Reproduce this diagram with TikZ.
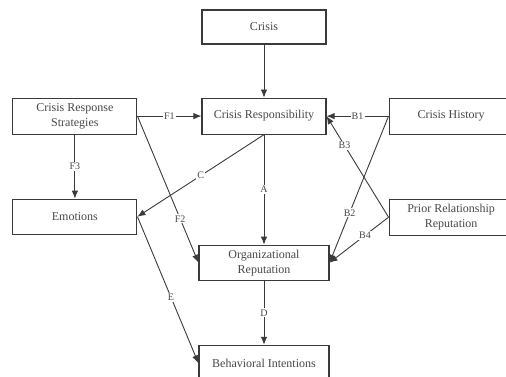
\documentclass[tikz,border=0pt]{standalone}
\usepackage{fontspec}
\setmainfont{Liberation Serif}
\usepackage{xcolor}
\usepackage{tikz}
\usetikzlibrary{arrows.meta,positioning}
\definecolor{crline}{RGB}{58,58,58}
\definecolor{crtext}{RGB}{72,72,72}
\tikzset{
  crbox/.style={
    draw=crline, line width=1.1pt, fill=white, text=crtext,
    align=center, inner sep=3pt, font=\fontsize{12}{15}\selectfont,
    minimum width=124pt, minimum height=35pt
  },
  widebox/.style={crbox, minimum width=130pt},
  arr/.style={-{Latex[length=8pt,width=6.5pt]}, draw=crline, line width=0.9pt},
  lbl/.style={fill=white, text=crtext, inner sep=1.2pt, font=\fontsize{10}{12}\selectfont}
}
\begin{document}
\begin{tikzpicture}[x=1pt, y=1pt, node distance=64pt and 64pt]
  \useasboundingbox (0,0) rectangle (506,-377);
  \clip (0,0) rectangle (506,-377);
  \node[crbox, minimum height=34pt] (crisis) at (264,-27) {Crisis};
  \node[crbox, below=53pt of crisis, minimum height=36pt] (resp) {Crisis Responsibility};
  \node[crbox, left=of resp, minimum height=36pt] (strat) {Crisis Response\\Strategies};
  \node[crbox, right=62pt of resp, minimum height=36pt] (hist) {Crisis History};
  \node[crbox, below=of strat] (emo) {Emotions};
  \node[crbox, below=64pt of hist, minimum height=36pt] (prior) {Prior Relationship\\Reputation};
  \node[widebox, below=110pt of resp] (orgrep) {Organizational\\Reputation};
  \node[widebox, below=of orgrep, minimum height=36pt] (intent) {Behavioral Intentions};
  % paths
  \draw[arr] (crisis) -- (resp);
  \draw[arr] (strat) -- node[lbl] {F1} (resp);
  \draw[arr] (hist) -- node[lbl] {B1} (resp);
  \draw[arr] (strat) -- node[lbl] {F3} (emo);
  \draw[arr] (strat.east) -- node[lbl, pos=0.7] {F2} (orgrep.west);
  \draw[arr] (resp.south) -- node[lbl] {C} (emo.east);
  \draw[arr] (resp) -- node[lbl] {A} (orgrep);
  \draw[arr] (hist.west) -- node[lbl, pos=0.66] {B2} (orgrep.east);
  \draw[arr] (prior.west) -- node[lbl, pos=0.71] {B3} (resp.east);
  \draw[arr] (prior.west) -- node[lbl, pos=0.4] {B4} (orgrep.east);
  \draw[arr] (orgrep) -- node[lbl] {D} (intent);
  \draw[arr] (emo.east) -- node[lbl, pos=0.55] {E} (intent.west);
\end{tikzpicture}
\end{document}
